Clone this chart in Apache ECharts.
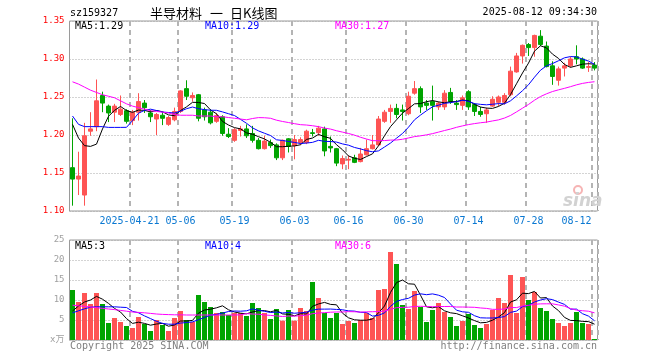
<!DOCTYPE html>
<html><head><meta charset="utf-8">
<script src="https://cdn.jsdelivr.net/npm/echarts@6/dist/echarts.min.js"></script>
<style>html,body{margin:0;padding:0;background:#fff}#c{width:660px;height:360px}</style>
</head><body><div id="c"></div>
<script>
const dates = ['04-07','04-08','04-09','04-10','04-11','04-14','04-15','04-16','04-17','04-18','04-21','04-22','04-23','04-24','04-25','04-28','04-29','04-30',
'05-06','05-07','05-08','05-09','05-12','05-13','05-14','05-15','05-16','05-19','05-20','05-21','05-22','05-23','05-26','05-27','05-28','05-29','05-30',
'06-03','06-04','06-05','06-06','06-09','06-10','06-11','06-12','06-13','06-16','06-17','06-18','06-19','06-20','06-23','06-24','06-25','06-26','06-27','06-30',
'07-01','07-02','07-03','07-04','07-07','07-08','07-09','07-10','07-11','07-14','07-15','07-16','07-17','07-18','07-21','07-22','07-23','07-24','07-25','07-28','07-29','07-30','07-31',
'08-01','08-04','08-05','08-06','08-07','08-08','08-11','08-12'];
const tickDates = ['04-21','05-06','05-19','06-03','06-16','06-30','07-14','07-28','08-12'];
const tickLabels = ['2025-04-21','05-06','05-19','06-03','06-16','06-30','07-14','07-28','08-12'];

const openP = [1.157,1.142,1.121,1.205,1.211,1.252,1.238,1.230,1.227,1.232,
1.219,1.230,1.242,1.229,1.221,1.226,1.214,1.220,1.231,1.261,
1.249,1.253,1.233,1.230,1.218,1.224,1.201,1.193,1.206,1.208,
1.202,1.193,1.182,1.190,1.187,1.170,1.195,1.186,1.190,1.190,
1.203,1.203,1.208,1.185,1.182,1.162,1.167,1.170,1.165,1.174,
1.182,1.187,1.218,1.231,1.235,1.233,1.228,1.255,1.261,1.242,
1.244,1.237,1.237,1.256,1.242,1.239,1.257,1.240,1.231,1.228,
1.238,1.243,1.243,1.253,1.283,1.304,1.319,1.315,1.330,1.317,
1.291,1.272,1.288,1.291,1.303,1.300,1.289,1.292];
const closeP = [1.142,1.146,1.199,1.208,1.245,1.242,1.229,1.238,1.234,1.218,
1.230,1.244,1.236,1.224,1.227,1.222,1.223,1.231,1.258,1.251,
1.252,1.222,1.224,1.216,1.2255,1.202,1.198,1.207,1.208,1.199,
1.193,1.182,1.192,1.186,1.170,1.193,1.185,1.194,1.194,1.205,
1.202,1.209,1.179,1.183,1.163,1.169,1.168,1.164,1.175,1.182,
1.187,1.221,1.230,1.235,1.227,1.231,1.251,1.261,1.237,1.239,
1.239,1.242,1.255,1.244,1.240,1.249,1.237,1.231,1.227,1.233,
1.247,1.250,1.252,1.284,1.304,1.318,1.315,1.331,1.319,1.290,
1.277,1.287,1.291,1.300,1.300,1.288,1.290,1.288];
const lowP = [1.107,1.121,1.107,1.199,1.205,1.230,1.217,1.217,1.225,1.215,
1.213,1.219,1.229,1.217,1.200,1.213,1.212,1.218,1.229,1.246,
1.244,1.218,1.219,1.214,1.216,1.199,1.196,1.191,1.198,1.196,
1.190,1.181,1.181,1.183,1.167,1.167,1.177,1.168,1.187,1.188,
1.198,1.199,1.172,1.177,1.159,1.155,1.155,1.163,1.164,1.173,
1.181,1.186,1.216,1.216,1.222,1.219,1.226,1.253,1.229,1.233,
1.219,1.233,1.233,1.241,1.233,1.233,1.233,1.225,1.224,1.216,
1.237,1.238,1.240,1.251,1.282,1.294,1.304,1.303,1.317,1.289,
1.266,1.265,1.277,1.289,1.293,1.287,1.283,1.285];
const highP = [1.222,1.178,1.216,1.230,1.273,1.257,1.240,1.241,1.252,1.234,
1.233,1.255,1.246,1.233,1.229,1.230,1.225,1.236,1.259,1.272,
1.256,1.254,1.236,1.234,1.229,1.226,1.209,1.209,1.212,1.214,
1.212,1.196,1.199,1.194,1.189,1.194,1.196,1.200,1.197,1.207,
1.208,1.212,1.211,1.198,1.183,1.173,1.173,1.174,1.183,1.194,
1.200,1.225,1.233,1.240,1.241,1.240,1.257,1.271,1.264,1.246,
1.265,1.244,1.259,1.262,1.246,1.252,1.259,1.242,1.237,1.236,
1.251,1.252,1.255,1.290,1.308,1.319,1.321,1.332,1.338,1.323,
1.297,1.290,1.295,1.303,1.318,1.302,1.296,1.296];
const volume = [12.5,9.5,11.75,9.0,11.75,9.0,4.25,5.5,4.5,3.5,
3.0,5.75,4.0,2.25,5.0,3.75,2.25,5.5,7.25,5.0,
4.5,11.25,9.5,8.25,6.75,7.0,6.25,6.75,6.75,6.0,
9.25,8.0,6.75,5.25,7.75,4.83,7.5,4.83,8.0,7.25,
14.5,10.5,6.75,5.5,6.75,4.0,4.75,4.25,5.0,6.75,
5.5,12.5,12.75,22.0,19.0,8.75,7.75,12.25,8.25,4.5,
7.5,9.25,7.0,5.75,3.5,4.75,6.5,3.75,3.0,4.0,
7.5,10.5,9.25,16.25,6.75,15.75,10.0,12.0,8.0,7.25,
5.25,4.25,3.5,4.25,7.0,4.25,4.0,0.25];

// moving-average values before a full window exists
const ma5Head = [1.214,1.196,1.186,1.185];
const ma10Head = [1.225,1.214,1.211,1.211,1.211,1.211,1.210,1.210,1.210];
const ma30Head = [1.270,1.267,1.263,1.259,1.256,1.253,1.251,1.249,1.245,1.241,1.238,1.236,1.234,1.232,1.231,1.230,1.229,1.227,1.226,1.226,1.226,1.225,1.225,1.225,1.224,1.224,1.223,1.222,1.221];
const vma5Head = [7.25,8.5,9.5,10.0];
const vma10Head = [6.8,7.3,7.8,8.2,8.3,8.3,8.3,8.3,8.2];
const vma30Head = [8.7,8.55,8.4,8.25,8.1,7.9,7.75,7.6,7.4,7.2,7.0,6.9,6.8,6.65,6.5,6.4,6.35,6.3,6.3,6.25,6.25,6.25,6.25,6.25,6.25,6.25,6.25,6.25,6.3];

const priceLegend = ['MA5:1.29','MA10:1.29','MA30:1.27'];
const volLegend = ['MA5:3','MA10:4','MA30:6'];
const priceAxis = [1.10, 1.35, 0.05];
const volAxis = [0, 25, 5];

function movingAvg(vals, n, head) {
  return vals.map((v, i) => {
    if (i < n - 1) return head[i];
    let s = 0;
    for (let k = i - n + 1; k <= i; k++) s += vals[k];
    return +(s / n).toFixed(4);
  });
}

const UP = '#fe5454', DOWN = '#00a400';
const MONO = 'DejaVu Sans Mono';
const lineColors = ['#000000', '#0000ff', '#ff00ff'];
const isTick = (i) => tickDates.indexOf(dates[i]) >= 0;

const candleData = dates.map((d, i) => [openP[i], closeP[i], lowP[i], highP[i]]);
const volData = volume.map((v, i) => ({ value: v, itemStyle: { color: closeP[i] >= openP[i] ? UP : DOWN } }));

const splitX = { show: true, interval: (i) => isTick(i), lineStyle: { color: '#b4b4b4', width: 2, type: [5, 4] } };
const splitY = { show: true, lineStyle: { color: '#a8a8a8', width: 1, type: [1, 2] } };

function lineSeries(data, color, xi, yi) {
  return { type: 'line', data: data, xAxisIndex: xi, yAxisIndex: yi, showSymbol: false, symbol: 'none',
    lineStyle: { color: color, width: 1 }, itemStyle: { color: color }, silent: true, z: 5 };
}

function txt(text, x, y, color, font, align) {
  return { type: 'text', x: x, y: y, silent: true, z: 100,
    style: { text: text, fill: color, font: font, textAlign: align || 'left', textVerticalAlign: 'middle' } };
}

const chart = echarts.init(document.getElementById('c'), null, { renderer: 'canvas' });
chart.setOption({
  animation: false,
  backgroundColor: '#ffffff',
  grid: [
    { left: 69.5, top: 21, width: 528, height: 190, show: true, borderColor: '#9a9a9a', borderWidth: 1 },
    { left: 69.5, top: 240, width: 528, height: 100, show: true, borderColor: '#9a9a9a', borderWidth: 1 }
  ],
  xAxis: [
    { type: 'category', gridIndex: 0, data: dates, boundaryGap: true,
      axisLine: { show: false }, axisTick: { show: false },
      axisLabel: { interval: (i) => isTick(i), hideOverlap: false, color: '#0a78d2', fontFamily: MONO, fontSize: 10, margin: 5,
        formatter: (v) => { const k = tickDates.indexOf(v); const s = tickLabels[k]; return k === tickDates.length - 1 ? s + '      ' : (k === 0 ? s + ' ' : s); } },
      splitLine: splitX },
    { type: 'category', gridIndex: 1, data: dates, boundaryGap: true,
      axisLine: { show: false }, axisTick: { show: false }, axisLabel: { show: false },
      splitLine: splitX }
  ],
  yAxis: [
    { type: 'value', gridIndex: 0, min: priceAxis[0], max: priceAxis[1], interval: priceAxis[2],
      axisLine: { show: false }, axisTick: { show: false },
      axisLabel: { color: '#ff0000', fontFamily: MONO, fontSize: 9, margin: 5, formatter: (v) => v.toFixed(2) },
      splitLine: splitY },
    { type: 'value', gridIndex: 1, min: volAxis[0], max: volAxis[1], interval: volAxis[2],
      axisLine: { show: false }, axisTick: { show: false },
      axisLabel: { color: '#a0a0a0', fontFamily: MONO + ', Noto Sans CJK SC', fontSize: 9, margin: 5,
        formatter: (v) => v === 0 ? 'x万' : String(v) },
      splitLine: splitY }
  ],
  series: [
    { type: 'candlestick', xAxisIndex: 0, yAxisIndex: 0, data: candleData, barWidth: 4,
      itemStyle: { color: UP, color0: DOWN, borderColor: UP, borderColor0: DOWN, borderWidth: 1 }, z: 3 },
    lineSeries(movingAvg(closeP, 5, ma5Head), lineColors[0], 0, 0),
    lineSeries(movingAvg(closeP, 10, ma10Head), lineColors[1], 0, 0),
    lineSeries(movingAvg(closeP, 30, ma30Head), lineColors[2], 0, 0),
    { type: 'bar', xAxisIndex: 1, yAxisIndex: 1, data: volData, barWidth: 5, z: 3 },
    lineSeries(movingAvg(volume, 5, vma5Head), lineColors[0], 1, 1),
    lineSeries(movingAvg(volume, 10, vma10Head), lineColors[1], 1, 1),
    lineSeries(movingAvg(volume, 30, vma30Head), lineColors[2], 1, 1)
  ],
  graphic: [
    txt('sz159327', 70, 13.5, '#000', '10px ' + MONO),
    txt('半导材料', 150, 13, '#000', '13px "Noto Sans CJK SC"'),
    txt('一', 210, 13, '#000', '13px "Noto Sans CJK SC"'),
    txt('日K线图', 230, 13, '#000', '13px "Noto Sans CJK SC"'),
    txt('2025-08-12 09:34:30', 597, 12.5, '#000', '10px ' + MONO, 'right'),
    txt(priceLegend[0], 75, 26.5, lineColors[0], '10px ' + MONO),
    txt(priceLegend[1], 205, 26.5, lineColors[1], '10px ' + MONO),
    txt(priceLegend[2], 335, 26.5, lineColors[2], '10px ' + MONO),
    txt(volLegend[0], 75, 246.5, lineColors[0], '10px ' + MONO),
    txt(volLegend[1], 205, 246.5, lineColors[1], '10px ' + MONO),
    txt(volLegend[2], 335, 246.5, lineColors[2], '10px ' + MONO),
    txt('Copyright 2025 SINA.COM', 70, 346, '#808080', '10px ' + MONO),
    txt('http://finance.sina.com.cn', 597, 346, '#808080', '10px ' + MONO, 'right'),
    { type: 'circle', shape: { cx: 578, cy: 190, r: 4 }, silent: true, z: 1,
      style: { fill: 'none', stroke: '#f6b4b4', lineWidth: 2 } },
    txt('sina', 563, 202, '#d2d2d2', 'italic bold 17px "DejaVu Sans"')
  ]
});
</script>
</body></html>
